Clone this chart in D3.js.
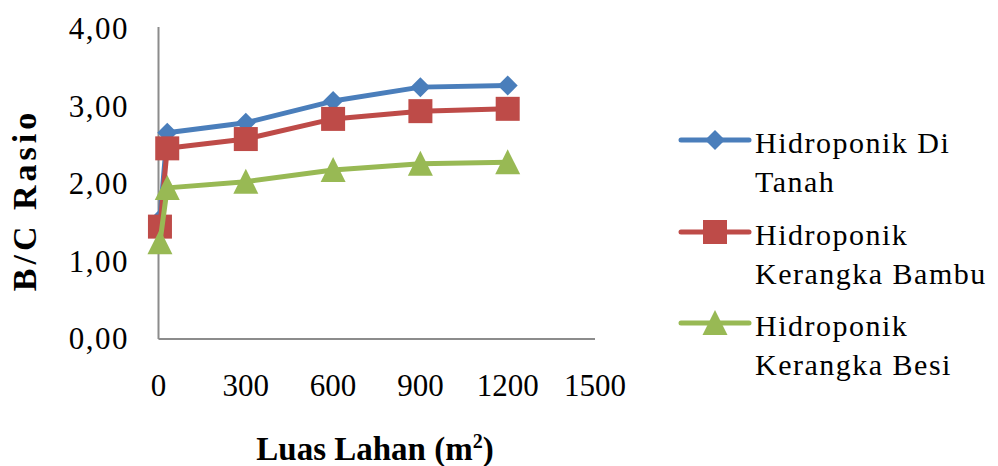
<!DOCTYPE html>
<html><head><meta charset="utf-8">
<script src="https://cdn.jsdelivr.net/npm/d3@7"></script>
<style>body{margin:0;background:#fff}svg{display:block}text{font-family:"Liberation Serif","Times New Roman",serif;fill:#000}</style>
</head><body>
<svg id="c" width="998" height="466"></svg>
<script>
const xValues = [5, 30, 300, 600, 900, 1200];
const seriesNames = ["Hidroponik Di Tanah", "Hidroponik Kerangka Bambu", "Hidroponik Kerangka Besi"];
const legendLines = [["Hidroponik Di", "Tanah"], ["Hidroponik", "Kerangka Bambu"], ["Hidroponik", "Kerangka Besi"]];
const tanah = [1.55, 2.66, 2.79, 3.07, 3.25, 3.27];
const bambu = [1.45, 2.46, 2.58, 2.84, 2.94, 2.97];
const besi  = [1.25, 1.95, 2.03, 2.18, 2.26, 2.28];
const yTicks = [0, 1, 2, 3, 4];
const xTicks = [0, 300, 600, 900, 1200, 1500];
const colors = ["#4A7EBB", "#BE4B48", "#98B954"];
const markers = ["diamond", "square", "triangle"];
const allSeries = [tanah, bambu, besi];

const svg = d3.select("#c");
const x = d3.scaleLinear().domain([0, 1500]).range([158.5, 595]);
const y = d3.scaleLinear().domain([0, 4]).range([339, 29]);
const fmt = v => d3.format(".2f")(v).replace(".", ",");

// axes lines
svg.append("line").attr("x1", x(0)).attr("x2", x(0)).attr("y1", y(4) - 2).attr("y2", y(0))
  .attr("stroke", "#8c8c8c").attr("stroke-width", 2);
svg.append("line").attr("x1", x(0)).attr("x2", x(1500)).attr("y1", y(0)).attr("y2", y(0))
  .attr("stroke", "#8c8c8c").attr("stroke-width", 2);

// y tick labels
svg.append("g").selectAll("text").data(yTicks).join("text")
  .attr("x", 129).attr("y", d => y(d) + 10).attr("text-anchor", "end")
  .style("font-size", "31px").style("letter-spacing", "1.5px").text(fmt);
// x tick labels
svg.append("g").selectAll("text").data(xTicks).join("text")
  .attr("x", d => x(d)).attr("y", 396).attr("text-anchor", "middle")
  .style("font-size", "31px").text(d => d);

// titles
svg.append("text").attr("x", 375).attr("y", 460).attr("text-anchor", "middle")
  .style("font-size", "33px").style("font-weight", "bold")
  .html('Luas Lahan (m<tspan dy="-12" style="font-size:20px">2</tspan><tspan dy="12">)</tspan>');
svg.append("text").attr("transform", "translate(36,200) rotate(-90)").attr("text-anchor", "middle")
  .style("font-size", "34px").style("font-weight", "bold").style("letter-spacing", "4px").text("B/C Rasio");

function marker(g, type, cx, cy, color) {
  if (type === "diamond") {
    g.append("path").attr("d", `M${cx},${cy-10}L${cx+10},${cy}L${cx},${cy+10}L${cx-10},${cy}Z`).attr("fill", color);
  } else if (type === "square") {
    g.append("rect").attr("x", cx - 12).attr("y", cy - 12).attr("width", 24).attr("height", 24).attr("fill", color);
  } else {
    g.append("path").attr("d", `M${cx},${cy-13}L${cx+12.5},${cy+12}L${cx-12.5},${cy+12}Z`).attr("fill", color);
  }
}

const line = d3.line().x((d, i) => x(xValues[i])).y(d => y(d));
allSeries.forEach((s, k) => {
  const g = svg.append("g");
  g.append("path").attr("d", line(s)).attr("fill", "none").attr("stroke", colors[k])
    .attr("stroke-width", 5).attr("stroke-linejoin", "round").attr("stroke-linecap", "round");
  s.forEach((v, i) => marker(g, markers[k], x(xValues[i]), y(v), colors[k]));
});

// legend
const legY = [140, 232, 323];
legendLines.forEach((lines, k) => {
  const g = svg.append("g");
  g.append("line").attr("x1", 681).attr("x2", 749).attr("y1", legY[k]).attr("y2", legY[k])
    .attr("stroke", colors[k]).attr("stroke-width", 5).attr("stroke-linecap", "round");
  marker(g, markers[k], 715, legY[k], colors[k]);
  lines.forEach((t, j) => g.append("text").attr("x", 755).attr("y", legY[k] + 13 + j * 39)
    .style("font-size", "30px").style("letter-spacing", "1.5px").text(t));
});
</script>
</body></html>
